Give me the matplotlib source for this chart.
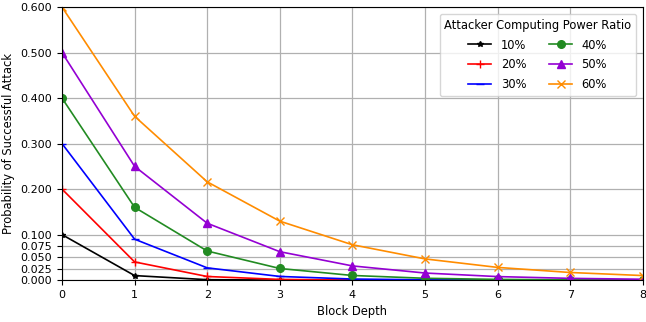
import matplotlib
matplotlib.use("Agg")
import matplotlib.pyplot as plt

depth = [0, 1, 2, 3, 4, 5, 6, 7, 8]
labels = ["10%", "20%", "30%", "40%", "50%", "60%"]
p10 = [0.1, 0.01, 0.001, 0.0001, 0.00001, 0.000001, 0.0000001, 0.00000001, 0.000000001]
p20 = [0.2, 0.04, 0.008, 0.0016, 0.00032, 0.000064, 0.0000128, 0.00000256, 0.000000512]
p30 = [0.3, 0.09, 0.027, 0.0081, 0.00243, 0.000729, 0.0002187, 0.00006561, 0.0000196830]
p40 = [0.4, 0.16, 0.064, 0.0256, 0.01024, 0.004096, 0.0016384, 0.00065536, 0.000262144]
p50 = [0.5, 0.25, 0.125, 0.0625, 0.03125, 0.015625, 0.0078125, 0.00390625, 0.001953125]
p60 = [0.6, 0.36, 0.216, 0.1296, 0.07776, 0.046656, 0.0279936, 0.01679616, 0.010077696]
series = [p10, p20, p30, p40, p50, p60]
colors = ["black", "red", "blue", "forestgreen", "darkviolet", "darkorange"]
markers = ["*", "+", "_", "o", "^", "x"]
msizes = [4, 6, 6, 5.5, 5.5, 5.5]
yticks = [0.0, 0.025, 0.05, 0.075, 0.1, 0.2, 0.3, 0.4, 0.5, 0.6]

plt.rcParams["font.size"] = 8.3
fig, ax = plt.subplots(figsize=(6.46, 3.22), dpi=100)
fig.subplots_adjust(left=0.096, right=0.995, top=0.978, bottom=0.13)
for s, c, m, ms, l in zip(series, colors, markers, msizes, labels):
    ax.plot(depth, s, color=c, marker=m, label=l, linewidth=1.2, markersize=ms)
ax.set_xlim(0, 8)
ax.set_ylim(0, 0.6)
ax.set_yticks(yticks)
ax.set_yticklabels([f"{v:.3f}" for v in yticks])
ax.set_xticks(depth)
ax.tick_params(labelsize=8)
ax.grid(True, color="#b0b0b0", linewidth=0.9)
ax.set_xlabel("Block Depth")
ax.set_ylabel("Probability of Successful Attack")
ax.legend(title="Attacker Computing Power Ratio", ncol=2, loc="upper right",
          title_fontsize=8.3, labelspacing=0.6, borderaxespad=0.6)
fig.savefig("out.png", dpi=100)
